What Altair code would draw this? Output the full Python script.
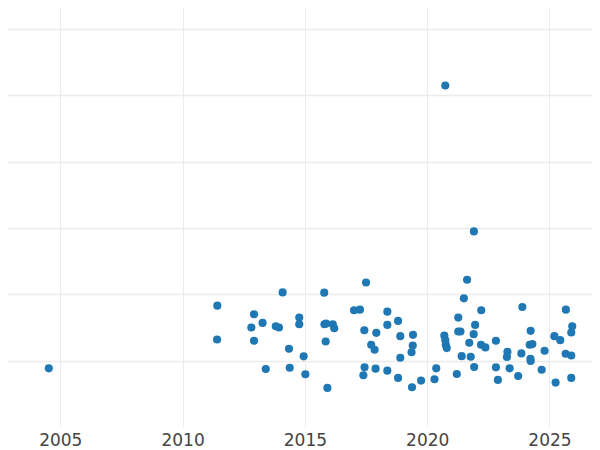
import altair as alt
import pandas as pd

years = [
    2004.53, 2011.42, 2011.41, 2012.92, 2012.81, 2013.27, 2013.81, 2013.94, 2014.09,
    2014.77, 2014.77, 2012.92, 2014.35, 2014.95, 2013.40, 2014.38, 2015.02, 2015.79,
    2015.80, 2015.87, 2016.14, 2016.20, 2015.85, 2015.92, 2017.50, 2017.01, 2017.25,
    2018.37, 2018.81, 2017.43, 2017.92, 2018.37, 2018.90, 2019.42, 2017.71, 2017.85,
    2019.41, 2019.36, 2018.90, 2017.44, 2017.39, 2017.89, 2018.37, 2018.81, 2019.38,
    2019.75, 2020.30, 2020.37, 2020.70, 2020.74, 2020.76, 2020.80, 2021.27, 2021.27,
    2021.36, 2021.21, 2020.74, 2021.91, 2021.63, 2021.50, 2022.21, 2021.96, 2021.90,
    2021.72, 2022.20, 2022.38, 2021.41, 2021.78, 2022.81, 2021.92, 2023.28, 2023.26,
    2023.85, 2023.89, 2024.23, 2024.19, 2024.30, 2024.22, 2024.23, 2024.80, 2022.81,
    2023.37, 2022.89, 2023.72, 2024.68, 2025.20, 2025.44, 2025.67, 2025.93, 2025.89,
    2025.66, 2025.89, 2025.25, 2025.89,
]
values = [
    -0.115, 0.83, 0.32, 0.70, 0.50, 0.57, 0.52, 0.50, 1.03,
    0.65, 0.55, 0.30, 0.18, 0.066, -0.125, -0.106, -0.204, 1.026,
    0.55, 0.56, 0.55, 0.49, 0.29, -0.41, 1.18, 0.76, 0.77,
    0.74, 0.60, 0.46, 0.42, 0.54, 0.37, 0.39, 0.24, 0.166,
    0.23, 0.127, 0.045, -0.10, -0.22, -0.12, -0.15, -0.26, -0.40,
    -0.30, -0.28, -0.115, 0.38, 0.31, 0.24, 0.19, 0.65, 0.44,
    0.44, -0.20, 4.15, 1.95, 1.22, 0.94, 0.76, 0.54, 0.40,
    0.27, 0.24, 0.20, 0.068, 0.06, 0.30, -0.095, 0.134, 0.056,
    0.11, 0.81, 0.45, 0.24, 0.25, 0.03, -0.005, 0.15, -0.10,
    -0.115, -0.29, -0.23, -0.137, 0.37, 0.31, 0.77, 0.52, 0.425,
    0.104, 0.078, -0.33, -0.26,
]
x_ticks = [2005, 2010, 2015, 2020, 2025]
y_grid = [0, 1, 2, 3, 4, 5]

df = pd.DataFrame({"year": years, "value": values})

chart = alt.Chart(df).mark_circle(size=66, opacity=1, color="#1f77b4").encode(
    x=alt.X(
        "year:Q",
        scale=alt.Scale(domain=[2002.535, 2027.065], nice=False, zero=False),
        axis=alt.Axis(
            values=x_ticks, format="d", title=None, domain=False, ticks=False,
            tickSize=0, labelPadding=5, labelFontSize=17, labelColor="#444",
            labelFont="DejaVu Sans", gridColor="#ececec", gridWidth=1,
        ),
    ),
    y=alt.Y(
        "value:Q",
        scale=alt.Scale(domain=[-1.0, 5.44], nice=False, zero=False),
        axis=alt.Axis(
            values=y_grid, labels=False, title=None, domain=False, ticks=False,
            tickSize=0, gridColor="#ebebeb", gridWidth=1.5,
        ),
    ),
).properties(
    width=600,
    height=427,
    autosize=alt.AutoSizeParams(type="none"),
    padding={"left": -8, "top": -8, "right": -8, "bottom": 22},
    background="white",
).configure_view(stroke=None, strokeWidth=0)

chart.save("out.html", embed_options={"renderer": "svg", "actions": False})
